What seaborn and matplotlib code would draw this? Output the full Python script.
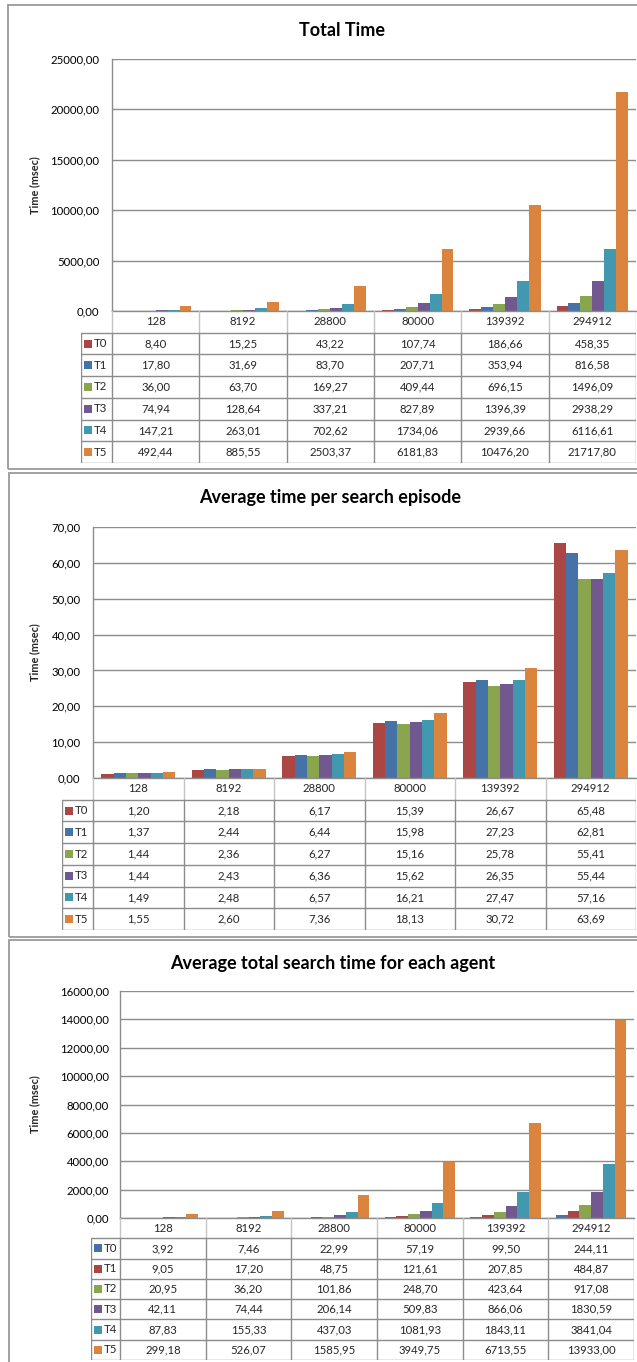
import numpy as np
import pandas as pd
import matplotlib
matplotlib.use("Agg")
import matplotlib.pyplot as plt
import seaborn as sns
from matplotlib.patches import Rectangle
from matplotlib.lines import Line2D

# ---------------- data ----------------
sizes = ["128", "8192", "28800", "80000", "139392", "294912"]
series = ["T0", "T1", "T2", "T3", "T4", "T5"]

total_T0 = [8.40, 15.25, 43.22, 107.74, 186.66, 458.35]
total_T1 = [17.80, 31.69, 83.70, 207.71, 353.94, 816.58]
total_T2 = [36.00, 63.70, 169.27, 409.44, 696.15, 1496.09]
total_T3 = [74.94, 128.64, 337.21, 827.89, 1396.39, 2938.29]
total_T4 = [147.21, 263.01, 702.62, 1734.06, 2939.66, 6116.61]
total_T5 = [492.44, 885.55, 2503.37, 6181.83, 10476.20, 21717.80]

episode_T0 = [1.20, 2.18, 6.17, 15.39, 26.67, 65.48]
episode_T1 = [1.37, 2.44, 6.44, 15.98, 27.23, 62.81]
episode_T2 = [1.44, 2.36, 6.27, 15.16, 25.78, 55.41]
episode_T3 = [1.44, 2.43, 6.36, 15.62, 26.35, 55.44]
episode_T4 = [1.49, 2.48, 6.57, 16.21, 27.47, 57.16]
episode_T5 = [1.55, 2.60, 7.36, 18.13, 30.72, 63.69]

agent_T0 = [3.92, 7.46, 22.99, 57.19, 99.50, 244.11]
agent_T1 = [9.05, 17.20, 48.75, 121.61, 207.85, 484.87]
agent_T2 = [20.95, 36.20, 101.86, 248.70, 423.64, 917.08]
agent_T3 = [42.11, 74.44, 206.14, 509.83, 866.06, 1830.59]
agent_T4 = [87.83, 155.33, 437.03, 1081.93, 1843.11, 3841.04]
agent_T5 = [299.18, 526.07, 1585.95, 3949.75, 6713.55, 13933.00]

titles = ["Total Time", "Average time per search episode",
          "Average total search time for each agent"]
y_label = "Time (msec)"
yticks_total = [0, 5000, 10000, 15000, 20000, 25000]
yticks_episode = [0, 10, 20, 30, 40, 50, 60, 70]
yticks_agent = [0, 2000, 4000, 6000, 8000, 10000, 12000, 14000, 16000]

RED, BLUE, GREEN = "#AA4643", "#4572A7", "#89A54E"
PURPLE, AQUA, ORANGE = "#71588F", "#4198AF", "#DB843D"
pal_a = dict(zip(series, [RED, BLUE, GREEN, PURPLE, AQUA, ORANGE]))
pal_b = dict(zip(series, [BLUE, RED, GREEN, PURPLE, AQUA, ORANGE]))

# ---------------- figure ----------------
sns.set_theme(style="white")
plt.rcParams['font.family'] = ['Lato', 'DejaVu Sans']

W, H = 637, 1362
fig = plt.figure(figsize=(W / 100, H / 100), dpi=100)
fig.patch.set_facecolor("white")

GRID = "#8c8c8c"
LIGHT = "#c4c4c4"
FS = 8.2


def add_axes_px(l, t, r, b):
    return fig.add_axes([l / W, 1 - b / H, (r - l) / W, (b - t) / H])


def fmt(v):
    return f"{v:.2f}".replace(".", ",")


def panel(values, palette, yticks, title, L):
    # panel frame
    fig.add_artist(Rectangle((L["box_l"] / W, 1 - L["box_b"] / H),
                             (700 - L["box_l"]) / W,
                             (L["box_b"] - L["box_t"]) / H,
                             transform=fig.transFigure, fill=False,
                             edgecolor="#9a9a9a", lw=1.3))
    fig.text(L["title_x"] / W, 1 - L["title_y"] / H, title, ha="center",
             va="center", fontsize=13, fontweight="bold", color="black")

    df = pd.DataFrame([(s, sizes[i], v) for s, vals in zip(series, values)
                       for i, v in enumerate(vals)],
                      columns=["series", "size", "value"])
    pl, pt, pr, pb = L["pl"], L["pt"], L["pr"], L["pb"]
    ax = add_axes_px(pl, pt, pr, pb)
    sns.barplot(data=df, x="size", y="value", hue="series", order=sizes,
                hue_order=series, palette=palette, width=0.82, saturation=1,
                legend=False, ax=ax, errorbar=None, linewidth=0)
    ax.set_xlim(-0.5, 5.5)
    ax.set_ylim(yticks[0], yticks[-1])
    ax.set_yticks(yticks)
    ax.set_yticklabels([fmt(t) for t in yticks], fontsize=FS, color="black")
    ax.tick_params(axis="y", length=0, pad=L["pad"])
    ax.tick_params(axis="x", length=0, labelbottom=False)
    ax.set_xlabel("")
    ax.set_ylabel("")
    ax.yaxis.grid(True, color=GRID, lw=1.0)
    ax.set_axisbelow(True)
    for s in ["top", "right"]:
        ax.spines[s].set_visible(False)
    for s in ["left", "bottom"]:
        ax.spines[s].set_color(GRID)
        ax.spines[s].set_linewidth(1.0)
    ax.set_facecolor("white")
    fig.text(35 / W, 1 - (pt + pb) / 2 / H, y_label, rotation=90,
             ha="center", va="center", fontsize=7.8, fontweight="bold")

    # data table
    colw = (pr - pl) / 6
    lw = (pl - L["ll"]) / colw
    tb = L["tb"]
    rh = (tb - pb) / 7
    ta = add_axes_px(L["ll"], pb, pr, tb)
    ta.set_xlim(-0.5 - lw, 5.5)
    ta.set_ylim(7, 0)
    ta.axis("off")
    x0 = -0.5 - lw
    for k in range(7):
        xv = -0.5 + k
        ta.add_line(Line2D([xv, xv], [0, 1], color=LIGHT, lw=1.0))
        ta.add_line(Line2D([xv, xv], [1, 7], color=GRID, lw=1.0))
    ta.add_line(Line2D([x0, x0], [1, 7], color=GRID, lw=1.0))
    for r in range(1, 8):
        ta.add_line(Line2D([x0, 5.5], [r, r], color=GRID, lw=1.0))
    for i, s in enumerate(sizes):
        ta.text(i, 0.5, s, ha="center", va="center", fontsize=FS)
    for r, (s, vals) in enumerate(zip(series, values)):
        yc = r + 1.5
        ta.add_patch(Rectangle((x0 + 3 / colw, yc - 4 / rh), 8 / colw, 8 / rh,
                               color=palette[s], lw=0))
        ta.text(x0 + 13 / colw, yc, s, ha="left", va="center", fontsize=FS)
        for i, v in enumerate(vals):
            ta.text(i, yc, fmt(v), ha="center", va="center", fontsize=FS)


L1 = dict(box_l=8, box_t=5, box_b=469, title_x=342, title_y=30,
          pl=112, pt=59, pr=636, pb=311, tb=463, ll=81, pad=9)
L2 = dict(box_l=9, box_t=473, box_b=937, title_x=330, title_y=498,
          pl=93, pt=527, pr=636, pb=778, tb=930, ll=62, pad=9)
L3 = dict(box_l=9, box_t=940, box_b=1400, title_x=333, title_y=963,
          pl=120, pt=991, pr=634, pb=1218, tb=1360, ll=91, pad=8)

panel([total_T0, total_T1, total_T2, total_T3, total_T4, total_T5],
      pal_a, yticks_total, titles[0], L1)
panel([episode_T0, episode_T1, episode_T2, episode_T3, episode_T4, episode_T5],
      pal_a, yticks_episode, titles[1], L2)
panel([agent_T0, agent_T1, agent_T2, agent_T3, agent_T4, agent_T5],
      pal_b, yticks_agent, titles[2], L3)

fig.savefig("out.png", dpi=100, facecolor="white")
